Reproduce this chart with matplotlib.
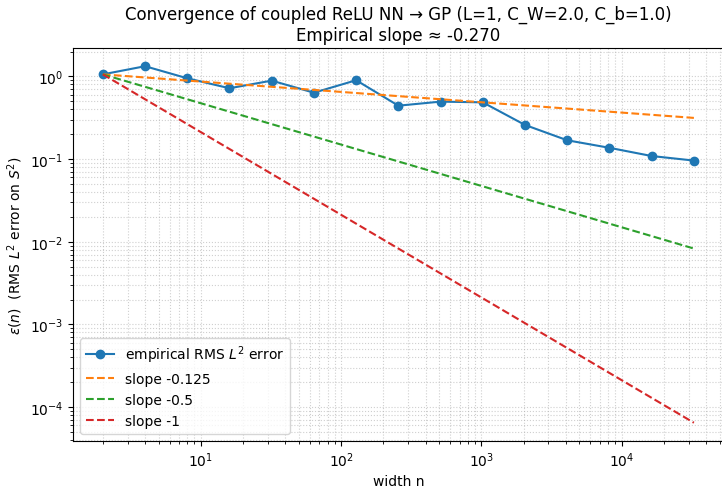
import numpy as np
import matplotlib
matplotlib.use("Agg")
import matplotlib.pyplot as plt

# widths and measured RMS L2 errors
widths = [2, 4, 8, 16, 32, 64, 128, 256, 512, 1024, 2048, 4096, 8192, 16384, 32768]
errors = [1.06, 1.33, 0.95, 0.72, 0.89, 0.636, 0.90, 0.443, 0.496, 0.486,
          0.259, 0.169, 0.137, 0.109, 0.096]
ref_slopes = [-0.125, -0.5, -1]
emp_slope = -0.270

n = np.array(widths, dtype=float)
err = np.array(errors)

fig, ax = plt.subplots(figsize=(7.22, 4.89), dpi=100)
ax.loglog(n, err, 'o-', label='empirical RMS $L^2$ error')
for s in ref_slopes:
    ax.loglog(n, err[0] * (n / n[0]) ** s, '--', label=f'slope {s}')

ax.set_xlabel('width n')
ax.set_ylabel(r'$\varepsilon(n)$  (RMS $L^2$ error on $S^2$)')
ax.set_title('Convergence of coupled ReLU NN \u2192 GP (L=1, C_W=2.0, C_b=1.0)\n'
             f'Empirical slope \u2248 {emp_slope:.3f}')
ax.grid(True, which='both', ls=':', alpha=0.6)
ax.legend(loc='lower left')

plt.subplots_adjust(left=0.1015, right=1.002, top=0.899, bottom=0.097)
plt.savefig('out.png')
